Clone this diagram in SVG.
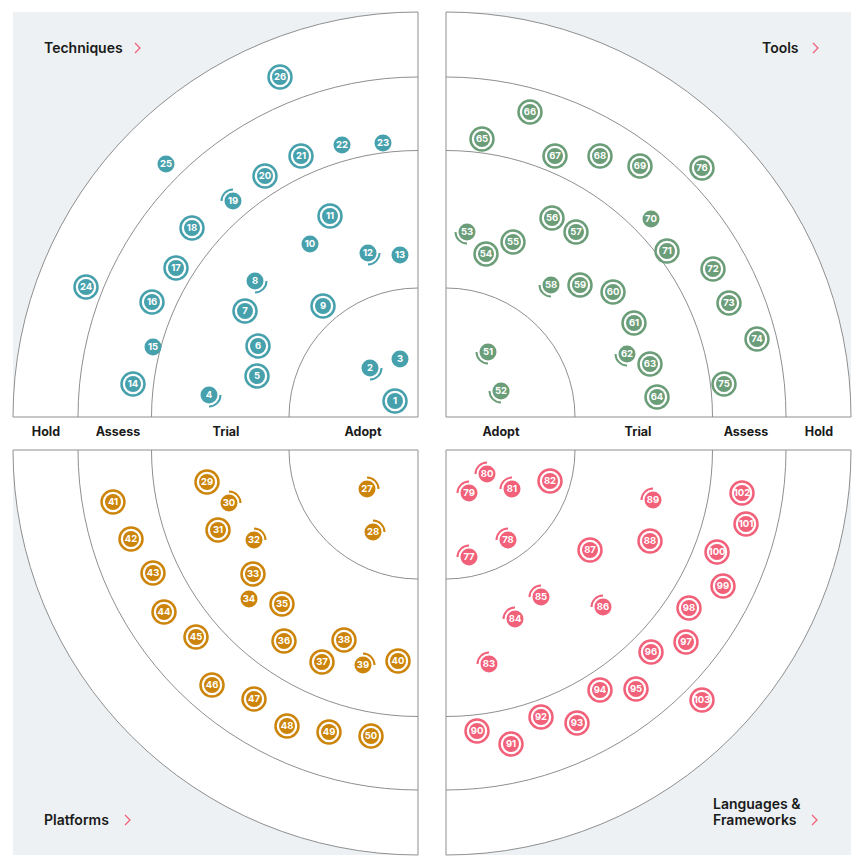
<svg xmlns="http://www.w3.org/2000/svg" width="862" height="866" viewBox="0 0 862 866">
<style>
.bg{fill:#edf1f3}
.q{fill:#ffffff;stroke:#8f8f8f;stroke-width:1}
.ringline{fill:none;stroke:#8f8f8f;stroke-width:1}
.title{font-family:Inter,"Liberation Sans",sans-serif;font-size:14px;font-weight:600;fill:#1a1a1a}
.chev{fill:none;stroke:#f2617a;stroke-width:1.3}
.rl{font-family:Inter,"Liberation Sans",sans-serif;font-size:12.5px;font-weight:700;fill:#1a1a1a;text-anchor:middle}
.n{font-family:Inter,"Liberation Sans",sans-serif;font-size:9.5px;font-weight:700;fill:#ffffff;text-anchor:middle}
.teal .in{fill:#47a1ad}.teal .o{fill:none;stroke:#47a1ad;stroke-width:2.5}.teal .a{fill:none;stroke:#47a1ad;stroke-width:2}
.green .in{fill:#6b9e78}.green .o{fill:none;stroke:#6b9e78;stroke-width:2.5}.green .a{fill:none;stroke:#6b9e78;stroke-width:2}
.orange .in{fill:#cc850a}.orange .o{fill:none;stroke:#cc850a;stroke-width:2.5}.orange .a{fill:none;stroke:#cc850a;stroke-width:2}
.pink .in{fill:#f2617a}.pink .o{fill:none;stroke:#f2617a;stroke-width:2.5}.pink .a{fill:none;stroke:#f2617a;stroke-width:2}
</style>
<defs>
<path id="aBR" d="M11.5 0A11.5 11.5 0 0 1 0 11.5"/>
<path id="aTL" d="M-11.5 0A11.5 11.5 0 0 1 0 -11.5"/>
<path id="aTR" d="M0 -11.5A11.5 11.5 0 0 1 11.5 0"/>
<path id="aBL" d="M0 11.5A11.5 11.5 0 0 1 -11.5 0"/>
</defs>
<rect width="862" height="866" fill="#ffffff"/>
<g id="backgrounds">
<rect class="bg" x="13" y="12" width="405" height="405"/>
<rect class="bg" x="446" y="12" width="405" height="405"/>
<rect class="bg" x="13" y="450" width="405" height="405"/>
<rect class="bg" x="446" y="450" width="405" height="405"/>
</g>
<g id="quadrants">
<path class="q" d="M418 417L13 417A405 405 0 0 1 418 12Z"/>
<path class="ringline" d="M78 417A340 340 0 0 1 418 77M151.5 417A266.5 266.5 0 0 1 418 150.5M289 417A129 129 0 0 1 418 288"/>
<path class="q" d="M446 417L446 12A405 405 0 0 1 851 417Z"/>
<path class="ringline" d="M446 77A340 340 0 0 1 786 417M446 150.5A266.5 266.5 0 0 1 712.5 417M446 288A129 129 0 0 1 575 417"/>
<path class="q" d="M418 450L418 855A405 405 0 0 1 13 450Z"/>
<path class="ringline" d="M418 790A340 340 0 0 1 78 450M418 716.5A266.5 266.5 0 0 1 151.5 450M418 579A129 129 0 0 1 289 450"/>
<path class="q" d="M446 450L851 450A405 405 0 0 1 446 855Z"/>
<path class="ringline" d="M786 450A340 340 0 0 1 446 790M712.5 450A266.5 266.5 0 0 1 446 716.5M575 450A129 129 0 0 1 446 579"/>
</g>
<g id="labels">
<text class="title" x="44" y="52.5">Techniques</text><path class="chev" d="M135 43L140 48L135 53"/>
<text class="title" x="762" y="52.5">Tools</text><path class="chev" d="M813 43L818 48L813 53"/>
<text class="title" x="44" y="824.5">Platforms</text><path class="chev" d="M125 815L130 820L125 825"/>
<text class="title" x="713" y="808.5">Languages &amp;</text>
<text class="title" x="713" y="824.5">Frameworks</text><path class="chev" d="M812 815L817 820L812 825"/>
<text class="rl" x="46" y="436">Hold</text>
<text class="rl" x="118" y="436">Assess</text>
<text class="rl" x="226" y="436">Trial</text>
<text class="rl" x="363" y="436">Adopt</text>
<text class="rl" x="501" y="436">Adopt</text>
<text class="rl" x="638" y="436">Trial</text>
<text class="rl" x="746" y="436">Assess</text>
<text class="rl" x="819" y="436">Hold</text>
</g>
<g id="connectors"></g>
<g id="techniques" class="teal">
<g id="b1" transform="translate(395,401)"><circle class="in" r="8"/><circle class="o" r="11.5"/><text class="n" y="3.4">1</text></g>
<g id="b2" transform="translate(370,368)"><circle class="in" r="8.5"/><use href="#aBR" class="a"/><text class="n" y="3.4">2</text></g>
<g id="b3" transform="translate(400,359)"><circle class="in" r="8.5"/><text class="n" y="3.4">3</text></g>
<g id="b4" transform="translate(209,395)"><circle class="in" r="8.5"/><use href="#aBR" class="a"/><text class="n" y="3.4">4</text></g>
<g id="b5" transform="translate(257,376)"><circle class="in" r="8"/><circle class="o" r="11.5"/><text class="n" y="3.4">5</text></g>
<g id="b6" transform="translate(258,346)"><circle class="in" r="8"/><circle class="o" r="11.5"/><text class="n" y="3.4">6</text></g>
<g id="b7" transform="translate(245,311)"><circle class="in" r="8"/><circle class="o" r="11.5"/><text class="n" y="3.4">7</text></g>
<g id="b8" transform="translate(255,281)"><circle class="in" r="8.5"/><use href="#aBR" class="a"/><text class="n" y="3.4">8</text></g>
<g id="b9" transform="translate(323,306)"><circle class="in" r="8"/><circle class="o" r="11.5"/><text class="n" y="3.4">9</text></g>
<g id="b10" transform="translate(310,244)"><circle class="in" r="8.5"/><text class="n" y="3.4">10</text></g>
<g id="b11" transform="translate(330,216)"><circle class="in" r="8"/><circle class="o" r="11.5"/><text class="n" y="3.4">11</text></g>
<g id="b12" transform="translate(368,253)"><circle class="in" r="8.5"/><use href="#aBR" class="a"/><text class="n" y="3.4">12</text></g>
<g id="b13" transform="translate(400,255)"><circle class="in" r="8.5"/><text class="n" y="3.4">13</text></g>
<g id="b14" transform="translate(133,384)"><circle class="in" r="8"/><circle class="o" r="11.5"/><text class="n" y="3.4">14</text></g>
<g id="b15" transform="translate(153,347)"><circle class="in" r="8.5"/><text class="n" y="3.4">15</text></g>
<g id="b16" transform="translate(152,302)"><circle class="in" r="8"/><circle class="o" r="11.5"/><text class="n" y="3.4">16</text></g>
<g id="b17" transform="translate(176,268)"><circle class="in" r="8"/><circle class="o" r="11.5"/><text class="n" y="3.4">17</text></g>
<g id="b18" transform="translate(192,228)"><circle class="in" r="8"/><circle class="o" r="11.5"/><text class="n" y="3.4">18</text></g>
<g id="b19" transform="translate(233,201)"><circle class="in" r="8.5"/><use href="#aTL" class="a"/><text class="n" y="3.4">19</text></g>
<g id="b20" transform="translate(265,176)"><circle class="in" r="8"/><circle class="o" r="11.5"/><text class="n" y="3.4">20</text></g>
<g id="b21" transform="translate(301,156)"><circle class="in" r="8"/><circle class="o" r="11.5"/><text class="n" y="3.4">21</text></g>
<g id="b22" transform="translate(342,145)"><circle class="in" r="8.5"/><text class="n" y="3.4">22</text></g>
<g id="b23" transform="translate(383,143)"><circle class="in" r="8.5"/><text class="n" y="3.4">23</text></g>
<g id="b24" transform="translate(86,287)"><circle class="in" r="8"/><circle class="o" r="11.5"/><text class="n" y="3.4">24</text></g>
<g id="b25" transform="translate(166,164)"><circle class="in" r="8.5"/><text class="n" y="3.4">25</text></g>
<g id="b26" transform="translate(280,77)"><circle class="in" r="8"/><circle class="o" r="11.5"/><text class="n" y="3.4">26</text></g>
</g>
<g id="platforms" class="orange">
<g id="b27" transform="translate(367,489)"><circle class="in" r="8.5"/><use href="#aTR" class="a"/><text class="n" y="3.4">27</text></g>
<g id="b28" transform="translate(373,532)"><circle class="in" r="8.5"/><use href="#aTR" class="a"/><text class="n" y="3.4">28</text></g>
<g id="b29" transform="translate(207,482)"><circle class="in" r="8"/><circle class="o" r="11.5"/><text class="n" y="3.4">29</text></g>
<g id="b30" transform="translate(229,503)"><circle class="in" r="8.5"/><use href="#aTR" class="a"/><text class="n" y="3.4">30</text></g>
<g id="b31" transform="translate(218,530)"><circle class="in" r="8"/><circle class="o" r="11.5"/><text class="n" y="3.4">31</text></g>
<g id="b32" transform="translate(254,540)"><circle class="in" r="8.5"/><use href="#aTR" class="a"/><text class="n" y="3.4">32</text></g>
<g id="b33" transform="translate(253,574)"><circle class="in" r="8"/><circle class="o" r="11.5"/><text class="n" y="3.4">33</text></g>
<g id="b34" transform="translate(249,599)"><circle class="in" r="8.5"/><text class="n" y="3.4">34</text></g>
<g id="b35" transform="translate(282,604)"><circle class="in" r="8"/><circle class="o" r="11.5"/><text class="n" y="3.4">35</text></g>
<g id="b36" transform="translate(284,641)"><circle class="in" r="8"/><circle class="o" r="11.5"/><text class="n" y="3.4">36</text></g>
<g id="b37" transform="translate(322,662)"><circle class="in" r="8"/><circle class="o" r="11.5"/><text class="n" y="3.4">37</text></g>
<g id="b38" transform="translate(344,640)"><circle class="in" r="8"/><circle class="o" r="11.5"/><text class="n" y="3.4">38</text></g>
<g id="b39" transform="translate(363,665)"><circle class="in" r="8.5"/><use href="#aTR" class="a"/><text class="n" y="3.4">39</text></g>
<g id="b40" transform="translate(398,661)"><circle class="in" r="8"/><circle class="o" r="11.5"/><text class="n" y="3.4">40</text></g>
<g id="b41" transform="translate(113,502)"><circle class="in" r="8"/><circle class="o" r="11.5"/><text class="n" y="3.4">41</text></g>
<g id="b42" transform="translate(131,539)"><circle class="in" r="8"/><circle class="o" r="11.5"/><text class="n" y="3.4">42</text></g>
<g id="b43" transform="translate(153,573)"><circle class="in" r="8"/><circle class="o" r="11.5"/><text class="n" y="3.4">43</text></g>
<g id="b44" transform="translate(164,612)"><circle class="in" r="8"/><circle class="o" r="11.5"/><text class="n" y="3.4">44</text></g>
<g id="b45" transform="translate(196,637)"><circle class="in" r="8"/><circle class="o" r="11.5"/><text class="n" y="3.4">45</text></g>
<g id="b46" transform="translate(212,685)"><circle class="in" r="8"/><circle class="o" r="11.5"/><text class="n" y="3.4">46</text></g>
<g id="b47" transform="translate(254,699)"><circle class="in" r="8"/><circle class="o" r="11.5"/><text class="n" y="3.4">47</text></g>
<g id="b48" transform="translate(287,726)"><circle class="in" r="8"/><circle class="o" r="11.5"/><text class="n" y="3.4">48</text></g>
<g id="b49" transform="translate(329,732)"><circle class="in" r="8"/><circle class="o" r="11.5"/><text class="n" y="3.4">49</text></g>
<g id="b50" transform="translate(371,736)"><circle class="in" r="8"/><circle class="o" r="11.5"/><text class="n" y="3.4">50</text></g>
</g>
<g id="tools" class="green">
<g id="b51" transform="translate(488,352)"><circle class="in" r="8.5"/><use href="#aBL" class="a"/><text class="n" y="3.4">51</text></g>
<g id="b52" transform="translate(501,391)"><circle class="in" r="8.5"/><use href="#aBL" class="a"/><text class="n" y="3.4">52</text></g>
<g id="b53" transform="translate(467,232)"><circle class="in" r="8.5"/><use href="#aBL" class="a"/><text class="n" y="3.4">53</text></g>
<g id="b54" transform="translate(486,254)"><circle class="in" r="8"/><circle class="o" r="11.5"/><text class="n" y="3.4">54</text></g>
<g id="b55" transform="translate(513,242)"><circle class="in" r="8"/><circle class="o" r="11.5"/><text class="n" y="3.4">55</text></g>
<g id="b56" transform="translate(552,218)"><circle class="in" r="8"/><circle class="o" r="11.5"/><text class="n" y="3.4">56</text></g>
<g id="b57" transform="translate(576,232)"><circle class="in" r="8"/><circle class="o" r="11.5"/><text class="n" y="3.4">57</text></g>
<g id="b58" transform="translate(551,285)"><circle class="in" r="8.5"/><use href="#aBL" class="a"/><text class="n" y="3.4">58</text></g>
<g id="b59" transform="translate(580,285)"><circle class="in" r="8"/><circle class="o" r="11.5"/><text class="n" y="3.4">59</text></g>
<g id="b60" transform="translate(613,292)"><circle class="in" r="8"/><circle class="o" r="11.5"/><text class="n" y="3.4">60</text></g>
<g id="b61" transform="translate(634,323)"><circle class="in" r="8"/><circle class="o" r="11.5"/><text class="n" y="3.4">61</text></g>
<g id="b62" transform="translate(627,354)"><circle class="in" r="8.5"/><use href="#aBL" class="a"/><text class="n" y="3.4">62</text></g>
<g id="b63" transform="translate(650,364)"><circle class="in" r="8"/><circle class="o" r="11.5"/><text class="n" y="3.4">63</text></g>
<g id="b64" transform="translate(657,397)"><circle class="in" r="8"/><circle class="o" r="11.5"/><text class="n" y="3.4">64</text></g>
<g id="b65" transform="translate(482,139)"><circle class="in" r="8"/><circle class="o" r="11.5"/><text class="n" y="3.4">65</text></g>
<g id="b66" transform="translate(530,112)"><circle class="in" r="8"/><circle class="o" r="11.5"/><text class="n" y="3.4">66</text></g>
<g id="b67" transform="translate(555,156)"><circle class="in" r="8"/><circle class="o" r="11.5"/><text class="n" y="3.4">67</text></g>
<g id="b68" transform="translate(600,156)"><circle class="in" r="8"/><circle class="o" r="11.5"/><text class="n" y="3.4">68</text></g>
<g id="b69" transform="translate(640,166)"><circle class="in" r="8"/><circle class="o" r="11.5"/><text class="n" y="3.4">69</text></g>
<g id="b70" transform="translate(651,219)"><circle class="in" r="8.5"/><text class="n" y="3.4">70</text></g>
<g id="b71" transform="translate(667,251)"><circle class="in" r="8"/><circle class="o" r="11.5"/><text class="n" y="3.4">71</text></g>
<g id="b72" transform="translate(713,269)"><circle class="in" r="8"/><circle class="o" r="11.5"/><text class="n" y="3.4">72</text></g>
<g id="b73" transform="translate(729,303)"><circle class="in" r="8"/><circle class="o" r="11.5"/><text class="n" y="3.4">73</text></g>
<g id="b74" transform="translate(757,339)"><circle class="in" r="8"/><circle class="o" r="11.5"/><text class="n" y="3.4">74</text></g>
<g id="b75" transform="translate(724,384)"><circle class="in" r="8"/><circle class="o" r="11.5"/><text class="n" y="3.4">75</text></g>
<g id="b76" transform="translate(702,168)"><circle class="in" r="8"/><circle class="o" r="11.5"/><text class="n" y="3.4">76</text></g>
</g>
<g id="languages" class="pink">
<g id="b77" transform="translate(469,557)"><circle class="in" r="8.5"/><use href="#aTL" class="a"/><text class="n" y="3.4">77</text></g>
<g id="b78" transform="translate(508,540)"><circle class="in" r="8.5"/><use href="#aTL" class="a"/><text class="n" y="3.4">78</text></g>
<g id="b79" transform="translate(469,493)"><circle class="in" r="8.5"/><use href="#aTL" class="a"/><text class="n" y="3.4">79</text></g>
<g id="b80" transform="translate(487,474)"><circle class="in" r="8.5"/><use href="#aTL" class="a"/><text class="n" y="3.4">80</text></g>
<g id="b81" transform="translate(512,489)"><circle class="in" r="8.5"/><use href="#aTL" class="a"/><text class="n" y="3.4">81</text></g>
<g id="b82" transform="translate(550,481)"><circle class="in" r="8"/><circle class="o" r="11.5"/><text class="n" y="3.4">82</text></g>
<g id="b83" transform="translate(489,664)"><circle class="in" r="8.5"/><use href="#aTL" class="a"/><text class="n" y="3.4">83</text></g>
<g id="b84" transform="translate(515,619)"><circle class="in" r="8.5"/><use href="#aTL" class="a"/><text class="n" y="3.4">84</text></g>
<g id="b85" transform="translate(541,597)"><circle class="in" r="8.5"/><use href="#aTL" class="a"/><text class="n" y="3.4">85</text></g>
<g id="b86" transform="translate(603,607)"><circle class="in" r="8.5"/><use href="#aTL" class="a"/><text class="n" y="3.4">86</text></g>
<g id="b87" transform="translate(590,550)"><circle class="in" r="8"/><circle class="o" r="11.5"/><text class="n" y="3.4">87</text></g>
<g id="b88" transform="translate(650,541)"><circle class="in" r="8"/><circle class="o" r="11.5"/><text class="n" y="3.4">88</text></g>
<g id="b89" transform="translate(653,500)"><circle class="in" r="8.5"/><use href="#aTL" class="a"/><text class="n" y="3.4">89</text></g>
<g id="b90" transform="translate(477,731)"><circle class="in" r="8"/><circle class="o" r="11.5"/><text class="n" y="3.4">90</text></g>
<g id="b91" transform="translate(511,744)"><circle class="in" r="8"/><circle class="o" r="11.5"/><text class="n" y="3.4">91</text></g>
<g id="b92" transform="translate(541,717)"><circle class="in" r="8"/><circle class="o" r="11.5"/><text class="n" y="3.4">92</text></g>
<g id="b93" transform="translate(577,723)"><circle class="in" r="8"/><circle class="o" r="11.5"/><text class="n" y="3.4">93</text></g>
<g id="b94" transform="translate(600,690)"><circle class="in" r="8"/><circle class="o" r="11.5"/><text class="n" y="3.4">94</text></g>
<g id="b95" transform="translate(636,689)"><circle class="in" r="8"/><circle class="o" r="11.5"/><text class="n" y="3.4">95</text></g>
<g id="b96" transform="translate(651,652)"><circle class="in" r="8"/><circle class="o" r="11.5"/><text class="n" y="3.4">96</text></g>
<g id="b97" transform="translate(686,642)"><circle class="in" r="8"/><circle class="o" r="11.5"/><text class="n" y="3.4">97</text></g>
<g id="b98" transform="translate(689,608)"><circle class="in" r="8"/><circle class="o" r="11.5"/><text class="n" y="3.4">98</text></g>
<g id="b99" transform="translate(723,586)"><circle class="in" r="8"/><circle class="o" r="11.5"/><text class="n" y="3.4">99</text></g>
<g id="b100" transform="translate(717,552)"><circle class="in" r="8"/><circle class="o" r="11.5"/><text class="n" y="3.4">100</text></g>
<g id="b101" transform="translate(746,524)"><circle class="in" r="8"/><circle class="o" r="11.5"/><text class="n" y="3.4">101</text></g>
<g id="b102" transform="translate(742,493)"><circle class="in" r="8"/><circle class="o" r="11.5"/><text class="n" y="3.4">102</text></g>
<g id="b103" transform="translate(702,700)"><circle class="in" r="8"/><circle class="o" r="11.5"/><text class="n" y="3.4">103</text></g>
</g>
</svg>
